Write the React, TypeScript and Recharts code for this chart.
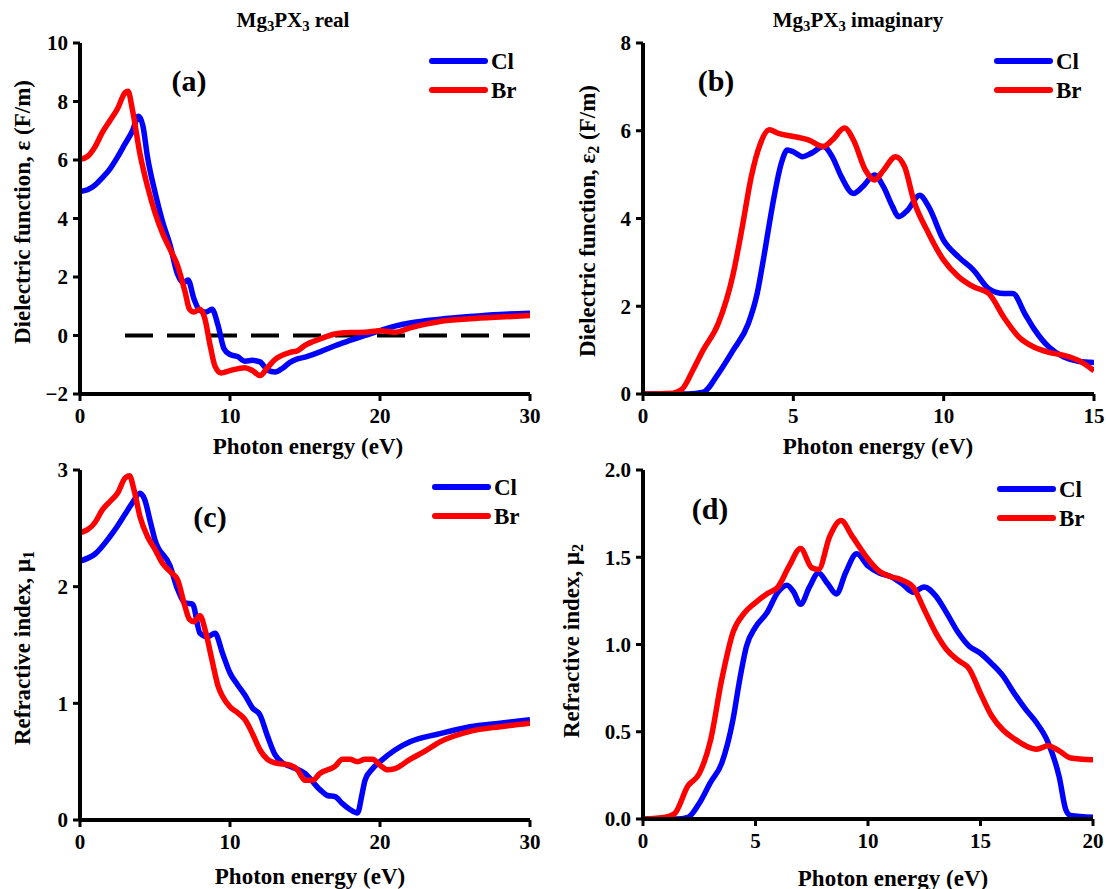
import React from "react";
import {
  LineChart,
  Line,
  XAxis,
  YAxis,
  ReferenceLine,
} from "recharts";

type Pt = [number, number];

// (a) real part of the dielectric function
const realCl: Pt[] = [
  [0, 4.92], [0.5, 4.98], [1, 5.14], [1.5, 5.4], [2, 5.7], [2.5, 6.1], [3, 6.55],
  [3.5, 7.0], [3.9, 7.5], [4.2, 7.15], [4.5, 6.1], [5, 4.9], [5.5, 3.9], [6, 3.1],
  [6.5, 2.1], [6.9, 1.8], [7.2, 1.9], [7.6, 1.25], [8, 0.85], [8.4, 0.8], [8.8, 0.9],
  [9.2, 0.35], [9.6, -0.45], [10, -0.65], [10.5, -0.72], [11, -0.88], [11.5, -0.85],
  [12, -0.9], [12.5, -1.18], [13, -1.25], [13.5, -1.12], [14, -0.92], [14.5, -0.8],
  [15, -0.74], [16, -0.56], [17, -0.35], [18, -0.17], [19, 0.0], [20, 0.17],
  [21, 0.32], [22, 0.43], [24, 0.56], [26, 0.65], [28, 0.72], [30, 0.76],
];
const realBr: Pt[] = [
  [0, 6.02], [0.5, 6.12], [1, 6.45], [1.5, 6.95], [2, 7.35], [2.5, 7.75], [3, 8.3],
  [3.2, 8.35], [3.5, 7.7], [4, 6.2], [4.5, 5.1], [5, 4.2], [5.5, 3.5], [6, 2.95],
  [6.5, 2.4], [7, 1.5], [7.3, 0.9], [7.6, 0.8], [8, 0.9], [8.3, 0.62], [8.7, -0.4],
  [9, -1.05], [9.4, -1.28], [10, -1.2], [11, -1.1], [11.5, -1.2], [12, -1.37],
  [12.5, -1.1], [13, -0.82], [14, -0.58], [14.5, -0.52], [15, -0.34], [16, -0.12],
  [17, 0.05], [18, 0.1], [19, 0.11], [20, 0.16], [21, 0.11], [22, 0.26], [24, 0.48],
  [26, 0.57], [28, 0.63], [30, 0.68],
];

// (b) imaginary part
const imagCl: Pt[] = [
  [0, 0], [1.5, 0], [2, 0.04], [2.5, 0.46], [3, 1.0], [3.5, 1.6], [3.8, 2.3], [4, 3.05],
  [4.3, 4.27], [4.6, 5.26], [4.8, 5.56], [5, 5.52], [5.3, 5.41], [5.6, 5.49], [6, 5.64],
  [6.3, 5.4], [6.6, 4.95], [7, 4.57], [7.3, 4.72], [7.7, 4.99], [8, 4.72], [8.3, 4.27],
  [8.5, 4.04], [8.8, 4.19], [9.2, 4.53], [9.5, 4.27], [10, 3.5], [10.5, 3.12],
  [11, 2.82], [11.5, 2.4], [12, 2.29], [12.3, 2.29], [12.7, 1.83], [13, 1.49],
  [13.5, 1.07], [14, 0.84], [14.5, 0.74], [15, 0.72],
];
const imagBr: Pt[] = [
  [0, 0], [1, 0.02], [1.3, 0.11], [1.7, 0.6], [2, 1.0], [2.5, 1.6], [3, 2.74],
  [3.3, 3.8], [3.6, 4.95], [3.9, 5.7], [4.2, 6.02], [4.5, 5.94], [5, 5.87], [5.5, 5.79],
  [6, 5.64], [6.3, 5.79], [6.7, 6.06], [7, 5.79], [7.4, 5.1], [7.7, 4.88], [8, 5.1],
  [8.4, 5.41], [8.7, 5.18], [9, 4.42], [9.5, 3.66], [10, 3.05], [10.5, 2.67],
  [11, 2.44], [11.5, 2.29], [12, 1.75], [12.5, 1.3], [13, 1.07], [13.5, 0.95],
  [14, 0.88], [14.5, 0.76], [15, 0.53],
];

// (c) refractive index, real
const n1Cl: Pt[] = [
  [0, 2.22], [1, 2.28], [2, 2.43], [2.5, 2.52], [3, 2.62], [3.5, 2.72], [4, 2.8],
  [4.3, 2.75], [4.7, 2.55], [5, 2.4], [6, 2.18], [6.5, 1.98], [7, 1.86], [7.5, 1.85],
  [8, 1.6], [8.5, 1.57], [9, 1.6], [9.5, 1.43], [10, 1.26], [10.5, 1.16], [11, 1.07],
  [11.5, 0.96], [12, 0.9], [12.5, 0.72], [13, 0.56], [13.5, 0.49], [14, 0.46],
  [15, 0.4], [16, 0.26], [16.5, 0.21], [17, 0.2], [17.5, 0.14], [18, 0.09],
  [18.5, 0.06], [18.8, 0.22], [19, 0.34], [19.5, 0.44], [20, 0.5], [21, 0.6],
  [22, 0.67], [24, 0.74], [26, 0.8], [28, 0.83], [30, 0.86],
];
const n1Br: Pt[] = [
  [0, 2.46], [1, 2.55], [1.5, 2.66], [2, 2.73], [2.5, 2.8], [3, 2.93], [3.3, 2.95],
  [3.6, 2.83], [4, 2.6], [4.5, 2.43], [5, 2.32], [5.5, 2.2], [6, 2.13], [6.5, 2.06],
  [7, 1.83], [7.3, 1.72], [7.6, 1.7], [8, 1.75], [8.4, 1.6], [8.8, 1.37], [9.2, 1.15],
  [9.5, 1.06], [10, 0.97], [10.5, 0.92], [11, 0.86], [11.5, 0.74], [12, 0.6],
  [12.5, 0.52], [13, 0.49], [14, 0.47], [14.5, 0.43], [15, 0.34], [15.5, 0.34],
  [16, 0.4], [17, 0.46], [17.5, 0.52], [18, 0.52], [18.5, 0.5], [19, 0.52],
  [19.5, 0.52], [20, 0.47], [20.5, 0.43], [21, 0.44], [22, 0.52], [23, 0.59],
  [24, 0.67], [26, 0.76], [28, 0.8], [30, 0.83],
];

// (d) refractive index, imaginary
const n2Cl: Pt[] = [
  [0, 0], [1.5, 0], [2, 0.01], [2.5, 0.09], [3, 0.21], [3.5, 0.32], [4, 0.57],
  [4.3, 0.8], [4.6, 0.99], [5, 1.1], [5.5, 1.18], [6, 1.3], [6.4, 1.34], [6.7, 1.3],
  [7, 1.23], [7.4, 1.33], [7.8, 1.41], [8.2, 1.35], [8.6, 1.29], [9, 1.41], [9.5, 1.52],
  [10, 1.45], [10.5, 1.41], [11, 1.39], [11.5, 1.35], [12, 1.3], [12.5, 1.33],
  [13, 1.28], [13.5, 1.18], [14, 1.07], [14.5, 0.99], [15, 0.95], [15.5, 0.89],
  [16, 0.82], [16.5, 0.72], [17, 0.63], [17.5, 0.55], [18, 0.44], [18.5, 0.24],
  [18.8, 0.05], [19, 0.02], [20, 0.01],
];
const n2Br: Pt[] = [
  [0, 0], [1, 0.01], [1.4, 0.03], [2, 0.19], [2.5, 0.26], [3, 0.45], [3.5, 0.8],
  [4, 1.07], [4.5, 1.18], [5, 1.24], [5.5, 1.29], [6, 1.33], [6.5, 1.45], [7, 1.55],
  [7.5, 1.44], [7.8, 1.43], [8.3, 1.62], [8.8, 1.71], [9.3, 1.62], [10, 1.49],
  [10.5, 1.42], [11, 1.39], [11.5, 1.37], [12, 1.33], [12.5, 1.2], [13, 1.07],
  [13.5, 0.97], [14, 0.91], [14.5, 0.86], [15, 0.72], [15.5, 0.59], [16, 0.51],
  [16.5, 0.46], [17, 0.42], [17.5, 0.4], [18, 0.42], [18.5, 0.39], [19, 0.35],
  [20, 0.34],
];

const ticksA = [0, 10, 20, 30];
const ticksB = [0, 5, 10, 15];
const ticksD = [0, 5, 10, 15, 20];
const yTicksA = [-2, 0, 2, 4, 6, 8, 10];
const yTicksB = [0, 2, 4, 6, 8];
const yTicksC = [0, 1, 2, 3];
const yTicksD = [0, 0.5, 1, 1.5, 2];

const FONT = '"Liberation Serif", "Times New Roman", serif';
const BLUE = "#0000ff";
const RED = "#ff0000";

const toRows = (pts: Pt[]) => pts.map(([x, y]) => ({ x, y }));
const intFmt = (v: number) => (v < 0 ? "\u2212" + Math.abs(v) : String(v));
const oneDec = (v: number) => v.toFixed(1);

const tickStyle = { fontSize: 21, fontWeight: 700, fill: "#000", fontFamily: FONT };
const tickMark = { stroke: "#000", strokeWidth: 3 };
const axisStroke = { stroke: "#000", strokeWidth: 4 };

type PanelProps = {
  box: { l: number; t: number; w: number; h: number };
  xDomain: [number, number];
  yDomain: [number, number];
  xTicks: number[];
  yTicks: number[];
  cl: Pt[];
  br: Pt[];
  yFmt: (v: number) => string;
  dashed?: boolean;
};

function Panel({ box, xDomain, yDomain, xTicks, yTicks, cl, br, yFmt, dashed }: PanelProps) {
  const { l, t, w, h } = box;
  return (
    <div style={{ position: "absolute", left: l - 70, top: t - 20 }}>
      <LineChart
        width={w + 90}
        height={h + 60}
        margin={{ top: 20, right: 20, left: 0, bottom: 0 }}
      >
        {/* top and right edges of the box */}
        <XAxis
          xAxisId="top"
          orientation="top"
          type="number"
          domain={xDomain}
          allowDataOverflow
          axisLine={axisStroke}
          tick={false}
          tickLine={false}
          height={0}
        />
        <YAxis
          yAxisId="right"
          orientation="right"
          type="number"
          domain={yDomain}
          allowDataOverflow
          axisLine={axisStroke}
          tick={false}
          tickLine={false}
          width={0}
        />
        <XAxis
          type="number"
          dataKey="x"
          domain={xDomain}
          ticks={xTicks}
          interval={0}
          allowDataOverflow
          axisLine={axisStroke}
          tickLine={tickMark}
          tickSize={7}
          tickMargin={7}
          tick={tickStyle}
          height={40}
        />
        <YAxis
          type="number"
          domain={yDomain}
          ticks={yTicks}
          interval={0}
          allowDataOverflow
          axisLine={axisStroke}
          tickLine={tickMark}
          tickSize={7}
          tickMargin={5}
          tick={tickStyle}
          tickFormatter={yFmt}
          width={70}
        />
        {dashed && (
          <ReferenceLine
            segment={[{ x: 3, y: 0 }, { x: 30, y: 0 }]}
            stroke="#000"
            strokeWidth={4}
            strokeDasharray="28 14"
          />
        )}
        <Line
          data={toRows(cl)}
          dataKey="y"
          type="monotone"
          stroke={BLUE}
          strokeWidth={5.5}
          dot={false}
          isAnimationActive={false}
        />
        <Line
          data={toRows(br)}
          dataKey="y"
          type="monotone"
          stroke={RED}
          strokeWidth={5.5}
          dot={false}
          isAnimationActive={false}
        />
      </LineChart>
    </div>
  );
}

const txt: React.CSSProperties = {
  position: "absolute",
  fontFamily: FONT,
  fontWeight: 700,
  color: "#000",
  whiteSpace: "nowrap",
  lineHeight: 1,
};

function Centered({ x, y, size, rotate, children }: { x: number; y: number; size: number; rotate?: boolean; children: React.ReactNode }) {
  return (
    <div
      style={{
        ...txt,
        left: x,
        top: y,
        fontSize: size,
        transform: `translate(-50%, -50%)${rotate ? " rotate(-90deg)" : ""}`,
      }}
    >
      {children}
    </div>
  );
}

function Legend({ x, y }: { x: number; y: number }) {
  const rows = [
    { name: "Cl", color: BLUE, dy: 0 },
    { name: "Br", color: RED, dy: 29 },
  ];
  return (
    <>
      {rows.map((r) => (
        <React.Fragment key={r.name}>
          <div
            style={{
              position: "absolute",
              left: x,
              top: y + r.dy - 3,
              width: 59,
              height: 6,
              borderRadius: 3,
              background: r.color,
            }}
          />
          <div style={{ ...txt, left: x + 62, top: y + r.dy, fontSize: 23, transform: "translateY(-50%)" }}>
            {r.name}
          </div>
        </React.Fragment>
      ))}
    </>
  );
}

const subStyle: React.CSSProperties = { fontSize: "0.7em", verticalAlign: "-0.25em" };

export default function App() {
  return (
    <div
      style={{
        position: "absolute",
        left: 0,
        top: 0,
        width: 1106,
        height: 889,
        overflow: "hidden",
        background: "#fff",
      }}
    >
      <Panel box={{ l: 80, t: 43, w: 450, h: 351 }} xDomain={[0, 30]} yDomain={[-2, 10]}
        xTicks={ticksA} yTicks={yTicksA} cl={realCl} br={realBr} yFmt={intFmt} dashed />
      <Panel box={{ l: 643, t: 43, w: 451, h: 351 }} xDomain={[0, 15]} yDomain={[0, 8]}
        xTicks={ticksB} yTicks={yTicksB} cl={imagCl} br={imagBr} yFmt={intFmt} />
      <Panel box={{ l: 80, t: 470, w: 450, h: 350 }} xDomain={[0, 30]} yDomain={[0, 3]}
        xTicks={ticksA} yTicks={yTicksC} cl={n1Cl} br={n1Br} yFmt={intFmt} />
      <Panel box={{ l: 643, t: 470, w: 450, h: 349 }} xDomain={[0, 20]} yDomain={[0, 2]}
        xTicks={ticksD} yTicks={yTicksD} cl={n2Cl} br={n2Br} yFmt={oneDec} />

      <Centered x={293} y={22} size={21}>
        Mg<span style={subStyle}>3</span>PX<span style={subStyle}>3</span> real
      </Centered>
      <Centered x={858} y={22} size={21}>
        Mg<span style={subStyle}>3</span>PX<span style={subStyle}>3</span> imaginary
      </Centered>

      <Centered x={189} y={81} size={30}>(a)</Centered>
      <Centered x={716} y={81} size={30}>(b)</Centered>
      <Centered x={210} y={517} size={30}>(c)</Centered>
      <Centered x={710} y={509} size={30}>(d)</Centered>

      <Centered x={22} y={212} size={23} rotate>Dielectric function, ε (F/m)</Centered>
      <Centered x={589} y={221} size={23} rotate>
        Dielectric function, ε<span style={subStyle}>2</span> (F/m)
      </Centered>
      <Centered x={24} y={648} size={23} rotate>
        Refractive index, μ<span style={subStyle}>1</span>
      </Centered>
      <Centered x={573} y={641} size={23} rotate>
        Refractive index, μ<span style={subStyle}>2</span>
      </Centered>

      <Centered x={308} y={446} size={23}>Photon energy (eV)</Centered>
      <Centered x={878} y={446} size={23}>Photon energy (eV)</Centered>
      <Centered x={310} y={876} size={23}>Photon energy (eV)</Centered>
      <Centered x={893} y={878} size={23}>Photon energy (eV)</Centered>

      <Legend x={429} y={61} />
      <Legend x={994} y={61} />
      <Legend x={432} y={487} />
      <Legend x={997} y={489} />
    </div>
  );
}
